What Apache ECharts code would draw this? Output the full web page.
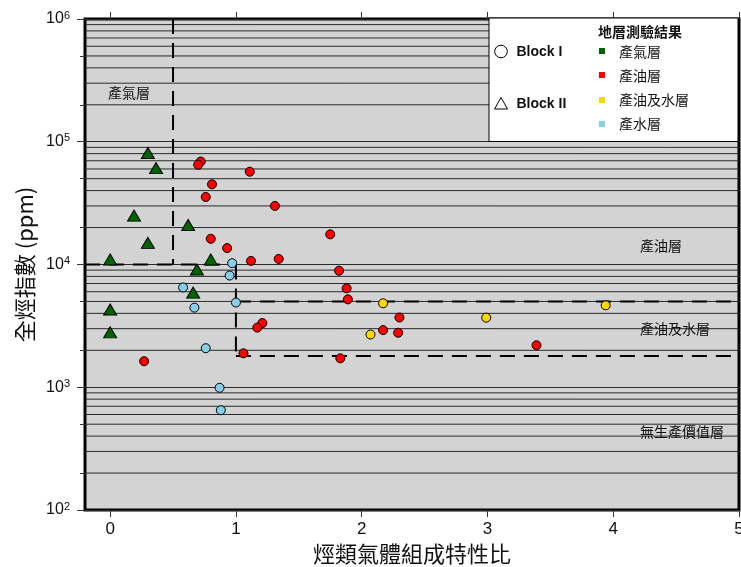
<!DOCTYPE html>
<html><head><meta charset="utf-8">
<script src="https://cdn.jsdelivr.net/npm/echarts@6/dist/echarts.min.js"></script>
<style>html,body{margin:0;padding:0;background:#fff}#c{width:741px;height:567px}</style>
</head><body><div id="c"></div>
<script>
// ---- axis ticks ----
const xTicks = [0, 1, 2, 3, 4, 5];
const yMajorTicks = [100, 1000, 10000, 100000, 1000000];
const yMinorTickMarks = [200, 500, 2000, 5000, 20000, 50000, 200000, 500000];
const yMinorGrid = [200,300,400,500,600,700,800,900, 2000,3000,4000,5000,6000,7000,8000,9000,
  20000,30000,40000,50000,60000,70000,80000,90000, 200000,300000,400000,500000,600000,700000,800000,900000];
const xRange = [-0.2, 5];
const yRange = [100, 1000000];

// ---- data: [ratio, total hydrocarbon index (ppm)] ----
// Block II (triangles) – gas layers
const blockII_gas = [[0.30,81000],[0.365,61000],[0.19,25000],[0.62,21000],[0.30,15000],[0,11000],
  [0.80,11000],[0.69,9100],[0.66,5900],[0,4300],[0,2800]];
// Block I (circles)
const blockI_oil = [[0.72,69000],[0.70,65000],[1.11,57000],[0.81,45000],[0.76,35500],[1.31,30000],
  [0.80,16200],[0.93,13600],[1.12,10700],[1.34,11100],[1.21,3330],[1.17,3060],[1.06,1890],[0.27,1630],
  [1.75,17600],[1.82,8900],[1.88,6400],[1.89,5200],[2.30,3700],[2.17,2920],[2.29,2780],[1.83,1720],[3.39,2200]];
const blockI_oilWater = [[2.17,4830],[2.07,2690],[2.99,3690],[3.94,4650]];
const blockI_water = [[0.97,10250],[0.95,8130],[0.58,6500],[0.67,4450],[1.00,4900],[0.76,2080],[0.87,990],[0.88,650]];

// ---- zone boundaries (dashed) ----
const boundaries = [
  [[0.5, 1000000], [0.5, 10000]],
  [[-0.2, 10000], [1, 10000]],
  [[1, 10000], [1, 1800]],
  [[1, 5000], [5, 5000]],
  [[1, 1800], [5, 1800]]
];

const latin = '"Liberation Sans", Arial, Helvetica, sans-serif';
const cjk = '"Noto Sans CJK TC", "Noto Sans CJK SC", sans-serif';
const COL = { gas: '#006400', oil: '#ff0000', oilWater: '#ffd700', water: '#87ceeb' };

const chart = echarts.init(document.getElementById('c'), null, { renderer: 'canvas' });

const series = [];
series.push({
  type: 'custom', name: 'minorGrid', silent: true, z: 1,
  data: yMinorGrid.map(v => [xRange[0], v]),
  renderItem: function (params, api) {
    const v = api.value(1);
    const p0 = api.coord([xRange[0], v]);
    const p1 = api.coord([xRange[1], v]);
    return { type: 'line', shape: { x1: p0[0], y1: p0[1], x2: p1[0], y2: p1[1] },
      style: { stroke: '#2a2a2a', lineWidth: 1 } };
  }
});
boundaries.forEach((b, i) => series.push({
  type: 'line', name: 'b' + i, data: b, symbol: 'none', silent: true, z: 3,
  lineStyle: { color: '#000', width: 2, type: [15, 9] }
}));
function scat(name, data, color, symbol, size) {
  return { type: 'scatter', name, data, symbol, symbolSize: size, z: 5,
    itemStyle: { color, borderColor: '#000', borderWidth: 1, opacity: 1 } };
}
series.push(scat('gasII', blockII_gas, COL.gas, 'triangle', [13, 11]));
series.push(scat('oilI', blockI_oil, COL.oil, 'circle', 9));
series.push(scat('oilWaterI', blockI_oilWater, COL.oilWater, 'circle', 9));
series.push(scat('waterI', blockI_water, COL.water, 'circle', 9));

const gText = (text, x, y, size, weight, family) => ({
  type: 'text', z: 100, x, y,
  style: { text, fontSize: size, fontWeight: weight || 'normal', fontFamily: family || cjk,
    fill: '#111', verticalAlign: 'middle', align: 'left' }
});

const graphic = [
  // legend box
  { type: 'rect', z: 100, shape: { x: 489, y: 18, width: 249, height: 123.5 },
    style: { fill: '#fff', stroke: '#000', lineWidth: 1 } },
  { type: 'circle', z: 101, shape: { cx: 501, cy: 51.5, r: 6.3 }, style: { fill: 'none', stroke: '#000', lineWidth: 1 } },
  gText('Block I', 516.5, 52, 14, 'bold', latin),
  { type: 'polygon', z: 101, shape: { points: [[501, 97.5], [507.5, 109], [494.5, 109]] },
    style: { fill: 'none', stroke: '#000', lineWidth: 1 } },
  gText('Block II', 516.5, 104, 14, 'bold', latin),
  gText('地層測驗結果', 598, 32, 14, 'bold'),
  { type: 'rect', z: 101, shape: { x: 599, y: 48, width: 6, height: 6 }, style: { fill: COL.gas } },
  { type: 'rect', z: 101, shape: { x: 599, y: 72, width: 6, height: 6 }, style: { fill: COL.oil } },
  { type: 'rect', z: 101, shape: { x: 599, y: 97, width: 6, height: 6 }, style: { fill: COL.oilWater } },
  { type: 'rect', z: 101, shape: { x: 599, y: 121, width: 6, height: 6 }, style: { fill: COL.water } },
  gText('產氣層', 619, 52, 14),
  gText('產油層', 619, 75.5, 14),
  gText('產油及水層', 619, 100, 14),
  gText('產水層', 619, 124, 14),
  // zone labels
  gText('產氣層', 108, 93, 14),
  gText('產油層', 640, 246, 14),
  gText('產油及水層', 640, 329, 14),
  gText('無生產價值層', 640, 432, 14)
];

const option = {
  animation: false,
  backgroundColor: '#fff',
  grid: { left: 85, right: 2, top: 19, bottom: 57, show: true, backgroundColor: '#d3d3d3',
    borderColor: '#000', borderWidth: 3, z: 0, containLabel: false, outerBoundsMode: 'none' },
  xAxis: [{
    type: 'value', min: xRange[0], max: xRange[1], position: 'bottom',
    name: '烴類氣體組成特性比', nameLocation: 'middle', nameGap: 31,
    nameTextStyle: { fontFamily: cjk, fontSize: 22, color: '#111' },
    axisLine: { show: false, onZero: false }, splitLine: { show: false },
    axisTick: { show: true, length: 7, customValues: xTicks, lineStyle: { color: '#333' } },
    axisLabel: { customValues: xTicks, fontFamily: latin, fontSize: 17, color: '#111', margin: 11 }
  }, {
    type: 'value', min: xRange[0], max: xRange[1], position: 'top',
    axisLine: { show: false, onZero: false }, splitLine: { show: false },
    axisTick: { show: true, length: 7, customValues: xTicks, lineStyle: { color: '#333' } },
    axisLabel: { show: false }
  }],
  yAxis: [{
    type: 'log', logBase: 10, min: yRange[0], max: yRange[1], position: 'left',
    name: '全烴指數 (ppm)', nameLocation: 'middle', nameGap: 43,
    nameTextStyle: { fontFamily: cjk, fontSize: 22, color: '#111' },
    axisLine: { show: false, onZero: false },
    splitLine: { show: true, lineStyle: { color: '#2a2a2a', width: 1 } },
    axisTick: { show: true, length: 8, customValues: yMajorTicks, lineStyle: { color: '#333' } },
    axisLabel: {
      customValues: yMajorTicks, margin: 15,
      formatter: v => '{b|10}{s|' + Math.round(Math.log10(v)) + '}',
      rich: {
        b: { fontFamily: latin, fontSize: 16, color: '#111', lineHeight: 18 },
        s: { fontFamily: latin, fontSize: 11, color: '#111', lineHeight: 11, verticalAlign: 'top' }
      }
    }
  }, {
    type: 'log', logBase: 10, min: yRange[0], max: yRange[1], position: 'left', offset: 0,
    axisLine: { show: false, onZero: false }, splitLine: { show: false },
    axisTick: { show: true, length: 5, customValues: yMinorTickMarks, lineStyle: { color: '#333' } },
    axisLabel: { show: false }
  }],
  series: series,
  graphic: { elements: graphic }
};
chart.setOption(option);
</script>
</body></html>
